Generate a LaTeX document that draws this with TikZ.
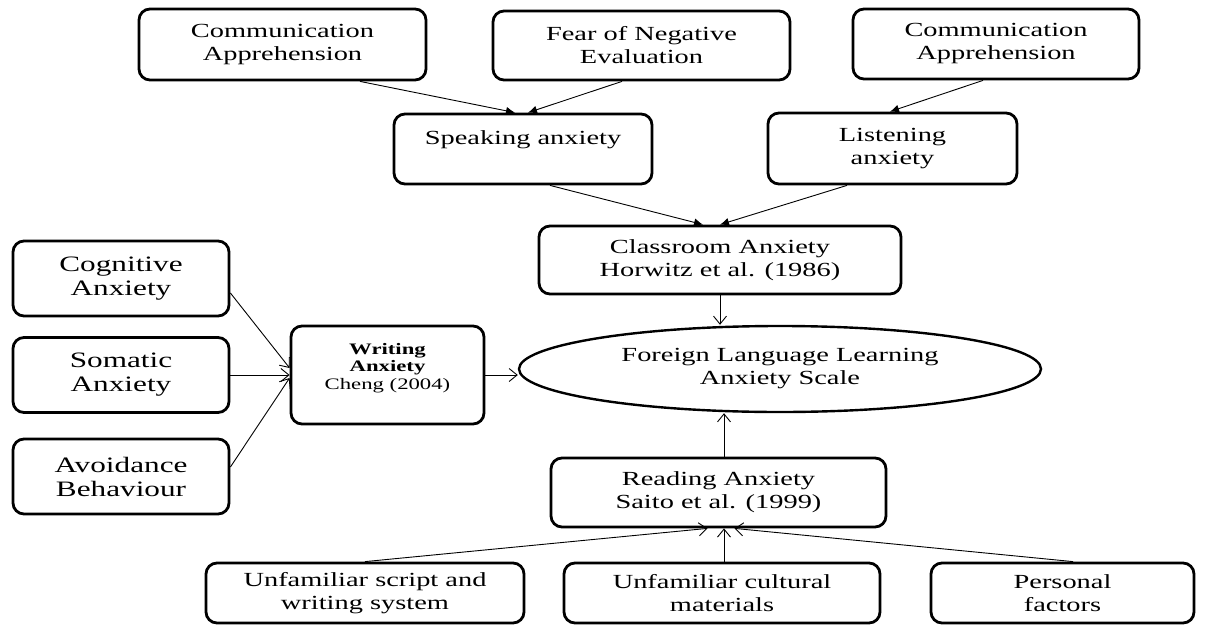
\documentclass[tikz,border=0pt]{standalone}
\usepackage{fontspec}
\setmainfont{Liberation Serif}[FakeStretch=1.42]
\usetikzlibrary{arrows.meta,shapes.geometric}

\tikzset{
  box/.style={draw, line width=2.8pt, rounded corners=11pt, align=center, inner sep=2pt, font=\fontsize{20}{23}\selectfont},
  sidebox/.style={box, minimum width=216, minimum height=75, font=\fontsize{22}{24}\selectfont},
  oval/.style={draw, ellipse, line width=2.4pt, align=center, inner sep=0pt, font=\fontsize{20}{23}\selectfont},
  arr/.style={line width=0.9pt, -{Straight Barb[length=8pt,width=13pt,line width=0.9pt]}},
  arrf/.style={line width=0.9pt, -{Latex[length=9pt,width=8pt]}},
}

\begin{document}
\begin{tikzpicture}[x=1pt,y=-1pt]
  \useasboundingbox (0,0) rectangle (1212,626);

  % top row
  \node[box, minimum width=287, minimum height=71] (comm1) at (282.5,44.5) {Communication\\Apprehension};
  \node[box, minimum width=297, minimum height=69] (fear) at (641.5,45.5) {Fear of Negative\\Evaluation};
  \node[box, minimum width=286, minimum height=70] (comm2) at (996,44) {Communication\\Apprehension};

  % second row
  \node[box, minimum width=258, minimum height=70] (speak) at (523,149) {Speaking anxiety\\~};
  \node[box, minimum width=249, minimum height=71] (listen) at (892.5,148.5) {Listening\\anxiety};

  \node[box, minimum width=362, minimum height=68] (class) at (720,260) {Classroom Anxiety\\Horwitz et al. (1986)};

  % centre
  \node[oval, minimum width=522, minimum height=86] (flla) at (780,369) {Foreign Language Learning\\Anxiety Scale};

  \node[box, minimum width=193, minimum height=98, font=\fontsize{16}{17.5}\selectfont] (writ) at (387.5,375) {\textbf{Writing}\\\textbf{Anxiety}\\Cheng (2004)\\~};

  % left column
  \node[sidebox] (cog) at (121,278.5) {Cognitive\\Anxiety};
  \node[sidebox] (som) at (121,375) {Somatic\\Anxiety};
  \node[sidebox] (avoid) at (121,476.5) {Avoidance\\Behaviour};

  \node[box, minimum width=335, minimum height=69] (read) at (718.5,492.5) {Reading Anxiety\\Saito et al. (1999)};

  % bottom row
  \node[box, minimum width=318, minimum height=60] (script) at (365,593) {Unfamiliar script and\\writing system};
  \node[box, minimum width=316, minimum height=60] (cult) at (722,593) {Unfamiliar cultural\\materials};
  \node[box, minimum width=263, minimum height=60] (pers) at (1062.5,593) {Personal\\factors};

  % connectors
  \draw[arrf] ([xshift=77.5]comm1.south) -- ([xshift=-8]speak.north);
  \draw[arrf] ([xshift=-19.5]fear.south) -- ([xshift=5]speak.north);
  \draw[arrf] ([xshift=-13]comm2.south) -- ([xshift=-2.5]listen.north);
  \draw[arrf] ([xshift=27]speak.south) -- ([xshift=-17]class.north);
  \draw[arrf] ([xshift=-45.5]listen.south) -- (class.north);

  \draw[arr] (class.south) -- (class.south |- flla.north);
  \draw[arr] ([xshift=5.5]read.north) -- ([xshift=5.5]read.north |- flla.south);
  \draw[arr] (writ.east) -- (writ.east -| flla.west);

  \draw[arr] ([yshift=-14.5]cog.east) -- ([yshift=7]writ.west);
  \draw[arr] (som.east) -- (som.east -| writ.west);
  \draw[arr] ([yshift=9.5]avoid.east) -- ([yshift=-3]writ.west);

  \draw[arr] (script.north) -- ([xshift=-11]read.south);
  \draw[arr] ([xshift=2]cult.north) -- ([xshift=2]cult.north |- read.south);
  \draw[arr] ([xshift=10.5]pers.north) -- ([xshift=16]read.south);
\end{tikzpicture}
\end{document}
